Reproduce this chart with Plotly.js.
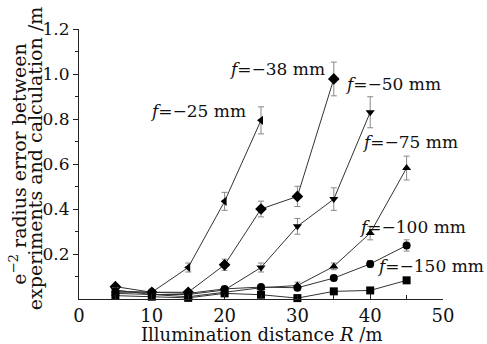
<!DOCTYPE html>
<html>
<head>
<meta charset="utf-8">
<script src="https://cdn.plot.ly/plotly-3.0.1.min.js"></script>
<style>html,body{margin:0;padding:0;background:#fff;}#chart{width:487px;height:344px;}</style>
</head>
<body>
<div id="chart"></div>
<script>
// Data
const seriesNames = ["f=-25 mm", "f=-38 mm", "f=-50 mm", "f=-75 mm", "f=-100 mm", "f=-150 mm"];
const xF25  = [5, 10, 15, 20, 25];
const yF25  = [0.03, 0.03, 0.14, 0.434, 0.794];
const eF25  = [0.01, 0.01, 0.02, 0.04, 0.06];
const xF38  = [5, 10, 15, 20, 25, 30, 35];
const yF38  = [0.055, 0.03, 0.03, 0.152, 0.40, 0.456, 0.978];
const eF38  = [0.01, 0.01, 0.01, 0.025, 0.035, 0.045, 0.075];
const xF50  = [5, 10, 15, 20, 25, 30, 35, 40];
const yF50  = [0.04, 0.02, 0.02, 0.04, 0.14, 0.323, 0.444, 0.83];
const eF50  = [0.01, 0.01, 0.01, 0.01, 0.02, 0.035, 0.05, 0.069];
const xF75  = [5, 10, 15, 20, 25, 30, 35, 40, 45];
const yF75  = [0.025, 0.02, 0.01, 0.03, 0.05, 0.06, 0.145, 0.293, 0.582];
const eF75  = [0.01, 0.01, 0.01, 0.01, 0.01, 0.015, 0.015, 0.03, 0.053];
const xF100 = [5, 10, 15, 20, 25, 30, 35, 40, 45];
const yF100 = [0.035, 0.03, 0.025, 0.045, 0.053, 0.05, 0.093, 0.156, 0.238];
const eF100 = [0.01, 0.01, 0.01, 0.01, 0.01, 0.01, 0.012, 0.015, 0.025];
const xF150 = [5, 10, 15, 20, 25, 30, 35, 40, 45];
const yF150 = [0.015, 0.01, 0.005, 0.025, 0.019, 0.004, 0.034, 0.038, 0.083];
const eF150 = [0.005, 0.005, 0.005, 0.005, 0.005, 0.005, 0.005, 0.005, 0.005];
const xTickVals = [0, 10, 20, 30, 40, 50];
const yTickVals = [0.2, 0.4, 0.6, 0.8, 1.0, 1.2];
const yTickText = ["0.2", "0.4", "0.6", "0.8", "1.0", "1.2"];
const labelTexts = ["<i>f</i>=−25 mm", "<i>f</i>=−38 mm", "<i>f</i>=−50 mm", "<i>f</i>=−75 mm", "<i>f</i>=−100 mm", "<i>f</i>=−150 mm"];
const xTitle = 'Illumination distance <i>R</i> /m';
const yTitleLines = ['e<sup>−2</sup> radius error between', 'experiments and calculation /m'];

const symbols = ["triangle-left", "diamond", "triangle-down", "triangle-up", "circle", "square"];
const xs = [xF25, xF38, xF50, xF75, xF100, xF150];
const ys = [yF25, yF38, yF50, yF75, yF100, yF150];
const es = [eF25, eF38, eF50, eF75, eF100, eF150];

const traces = xs.map((x, i) => ({
  x: x, y: ys[i], name: seriesNames[i], type: 'scatter', mode: 'lines+markers',
  line: {color: '#333', width: 1},
  marker: {symbol: symbols[i], size: symbols[i] === 'diamond' ? 9 : 8, color: '#000'},
  error_y: {type: 'data', array: es[i], visible: true, color: '#888', thickness: 1, width: 3},
  cliponaxis: false
}));

const font = {family: 'DejaVu Serif, serif', color: '#111'};
const annPos = [
  {x: 23.2, y: 0.837, xanchor: 'right'},
  {x: 34.1, y: 1.024, xanchor: 'right'},
  {x: 36.3, y: 0.957, xanchor: 'left'},
  {x: 38.6, y: 0.699, xanchor: 'left'},
  {x: 38.2, y: 0.321, xanchor: 'left'},
  {x: 40.6, y: 0.148, xanchor: 'left'}
];
const annotations = labelTexts.map((t, i) => ({
  text: t, x: annPos[i].x, y: annPos[i].y, xref: 'x', yref: 'y',
  xanchor: annPos[i].xanchor, yanchor: 'middle', showarrow: false,
  font: Object.assign({size: 17}, font)
}));
// axis titles
annotations.push({
  text: xTitle, xref: 'paper', yref: 'paper', x: 0.5, y: -0.13,
  xanchor: 'center', yanchor: 'middle', showarrow: false,
  font: Object.assign({size: 18}, font)
});
const yTitleX = [-0.168, -0.122];
const yTitleY = [0.50, 0.52];
yTitleLines.forEach((t, i) => annotations.push({
  text: t, xref: 'paper', yref: 'paper', x: yTitleX[i], y: yTitleY[i],
  xanchor: 'center', yanchor: 'middle', showarrow: false, textangle: -90,
  font: Object.assign({size: 19}, font)
}));

const layout = {
  width: 487, height: 344,
  margin: {l: 79, r: 44, t: 29, b: 45},
  paper_bgcolor: '#fff', plot_bgcolor: '#fff',
  showlegend: false,
  font: Object.assign({size: 17}, font),
  xaxis: {
    range: [0, 50], tickvals: xTickVals, ticks: 'inside', ticklen: 5, tickcolor: '#222',
    showline: true, linecolor: '#222', linewidth: 1, showgrid: false, zeroline: false,
    minor: {ticks: 'inside', ticklen: 4, dtick: 5, tickcolor: '#222'},
    tickfont: Object.assign({size: 18}, font)
  },
  yaxis: {
    range: [0, 1.2], tickvals: yTickVals, ticktext: yTickText, ticks: 'outside', ticklen: 5, tickcolor: '#222',
    showline: true, linecolor: '#222', linewidth: 1, showgrid: false, zeroline: false,
    minor: {ticks: 'outside', ticklen: 3, tickvals: [0.1, 0.3, 0.5, 0.7, 0.9, 1.1], tickcolor: '#222'},
    tickfont: Object.assign({size: 17}, font)
  },
  annotations: annotations
};

Plotly.newPlot('chart', traces, layout, {displayModeBar: false, staticPlot: true});
</script>
</body>
</html>
